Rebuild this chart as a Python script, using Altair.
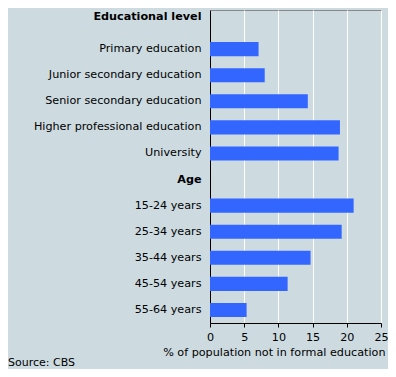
import altair as alt
import pandas as pd

categories = [
    "Educational level",
    "Primary education",
    "Junior secondary education",
    "Senior secondary education",
    "Higher professional education",
    "University",
    "Age",
    "15-24 years",
    "25-34 years",
    "35-44 years",
    "45-54 years",
    "55-64 years",
]
bar_categories = [
    "Primary education",
    "Junior secondary education",
    "Senior secondary education",
    "Higher professional education",
    "University",
    "15-24 years",
    "25-34 years",
    "35-44 years",
    "45-54 years",
    "55-64 years",
]
values = [7.1, 8.0, 14.3, 19.0, 18.8, 21.0, 19.25, 14.7, 11.35, 5.35]
headers = ["Educational level", "Age"]
x_ticks = [0, 5, 10, 15, 20, 25]
source_text = ["Source: CBS"]

FONT = "DejaVu Sans"
FS = 11.2
BG = "#cddbe1"

df = pd.DataFrame({"category": bar_categories, "value": values})

bars = alt.Chart(df).mark_bar(color="#3366ff").encode(
    x=alt.X(
        "value:Q",
        scale=alt.Scale(domain=[0, 25], nice=False),
        axis=alt.Axis(
            values=x_ticks,
            title="% of population not in formal education",
            titleFont=FONT,
            titleFontSize=FS,
            titleFontWeight="normal",
            titleColor="black",
            titleAnchor="end",
            titleAlign="right",
            titleX=175,
            titleY=29,
            titleBaseline="middle",
            labelFont=FONT,
            labelFontSize=FS,
            labelColor="black",
            labelPadding=4,
            tickSize=4,
            tickColor="black",
            domainColor="black",
            gridColor="white",
            gridWidth=1,
            labelFlush=False,
        ),
    ),
    y=alt.Y(
        "category:N",
        scale=alt.Scale(domain=categories, paddingInner=0.46, paddingOuter=0.23),
        axis=alt.Axis(
            title=None,
            ticks=False,
            tickSize=0,
            labelPadding=9,
            labelFont=FONT,
            labelFontSize=FS,
            labelColor="black",
            labelLimit=300,
            domainColor="black",
            grid=False,
            labelFontWeight=alt.ExprRef(
                "datum.value == 'Educational level' || datum.value == 'Age' ? 'bold' : 'normal'"
            ),
            labelOffset=alt.ExprRef(
                "datum.value == 'Educational level' ? -6 : 0"
            ),
        ),
    ),
)

src = alt.Chart(pd.DataFrame({"t": source_text})).mark_text(
    align="left", baseline="middle", font=FONT, fontSize=11, color="black"
).encode(
    text="t:N",
    x=alt.value(-202),
    y=alt.value(353),
)

chart = (
    alt.layer(bars, src)
    .properties(
        width=171,
        height=313,
        background=BG,
        autosize=alt.AutoSizeParams(type="none"),
        padding={"left": 202, "top": 2, "right": 7, "bottom": 46},
    )
    .configure_view(stroke="#888888", strokeWidth=1)
    .configure_axis(domainWidth=1)
)

chart.save("out.html", embed_options={"renderer": "svg", "actions": False})
